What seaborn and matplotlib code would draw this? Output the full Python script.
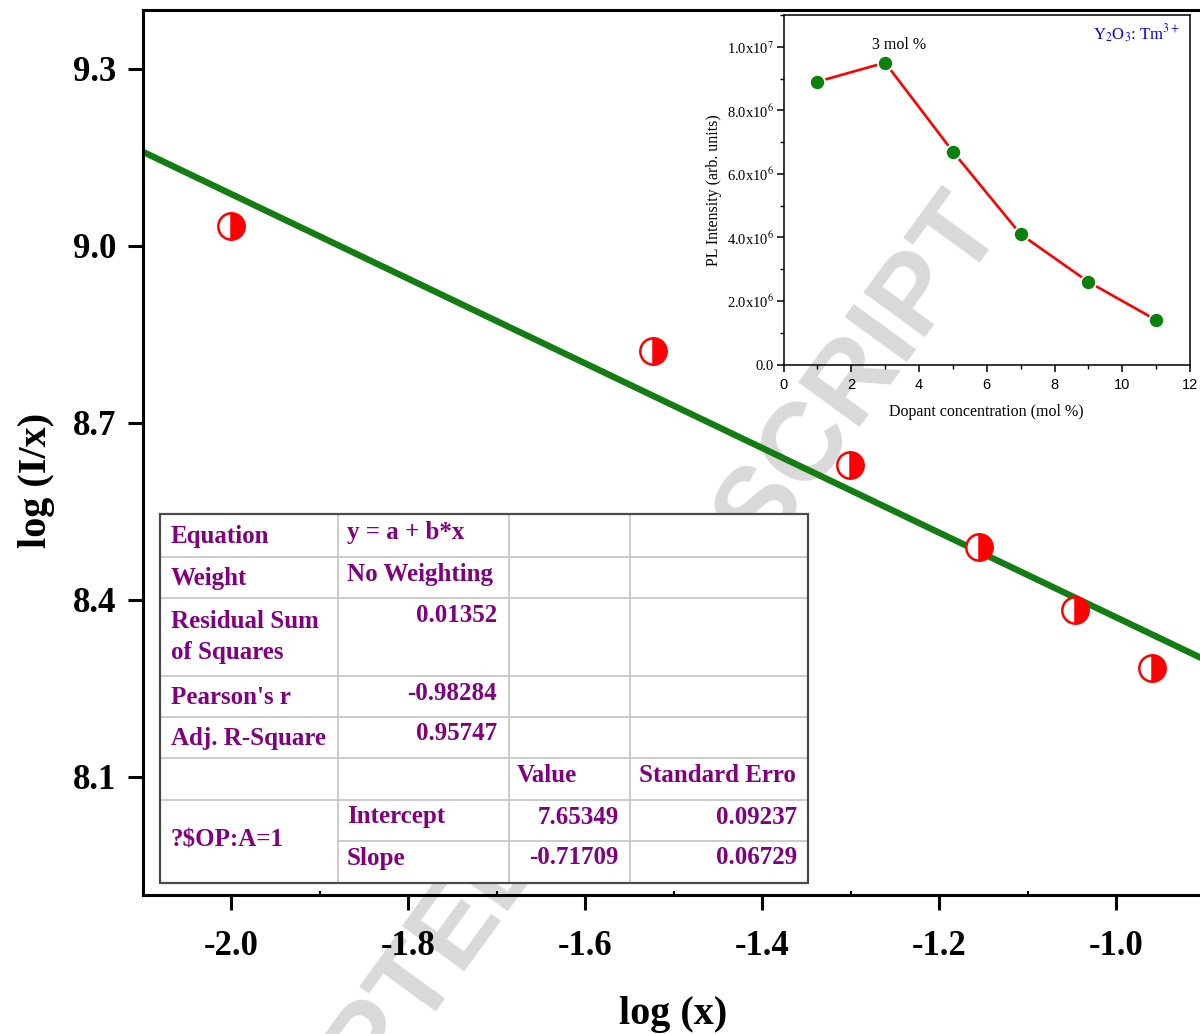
import numpy as np
import matplotlib
matplotlib.use('Agg')
import matplotlib.pyplot as plt
import seaborn as sns
from matplotlib.lines import Line2D
from matplotlib.patches import Rectangle
from matplotlib.ticker import FuncFormatter, MultipleLocator

# data: log-log plot for concentration quenching
log_x = [-2.0, -1.523, -1.301, -1.155, -1.046, -0.959]
log_ix = [9.034, 8.821, 8.629, 8.489, 8.382, 8.284]
intercept = 7.65349
slope = -0.71709

# inset data: PL intensity vs dopant concentration
conc = [1, 3, 5, 7, 9, 11]
pl_int = [8.9e6, 9.5e6, 6.7e6, 4.1e6, 2.6e6, 1.4e6]

# fit report table
row_labels = ['Equation', 'Weight', 'Residual Sum\nof Squares', "Pearson's r", 'Adj. R-Square']
row_values = ['y = a + b*x', 'No Weighting', '0.01352', '-0.98284', '0.95747']
param_names = ['Intercept', 'Slope']
param_values = ['7.65349', '-0.71709']
param_errors = ['0.09237', '0.06729']
header = ['Value', 'Standard Erro']
group_label = '?$OP:A=1'

sns.set_style('ticks')
plt.rcParams['font.family'] = ['Liberation Serif', 'DejaVu Serif']
plt.rcParams['mathtext.fontset'] = 'stix'
plt.rcParams['axes.unicode_minus'] = False
plt.rcParams['xtick.color'] = 'black'
plt.rcParams['ytick.color'] = 'black'
plt.rcParams['axes.edgecolor'] = 'black'
plt.rcParams['text.color'] = 'black'
plt.rcParams['axes.labelcolor'] = 'black'

W, H = 1200, 1034
fig = plt.figure(figsize=(12, 10.34), dpi=100, facecolor='white')


def fx(px):
    return px / W


def fy(py):
    return 1 - py / H


# watermark behind everything
fig.text(fx(575), fy(770), 'ACCEPTED MANUSCRIPT', family='Liberation Sans', fontsize=80,
         fontweight='bold', color='#d9d9d9', rotation=54, rotation_mode='anchor',
         ha='center', va='center', zorder=0.5)

# main axes
ax = fig.add_axes([fx(142.5), fy(895), fx(1204.5) - fx(142.5), fy(9.6) - fy(895)])
ax.set_zorder(1)
ax.patch.set_alpha(0)
ax.set_xlim(-2.1, -0.9)
ax.set_ylim(7.9, 9.4)

fit_x = np.array(ax.get_xlim())
sns.lineplot(x=fit_x, y=intercept + slope * fit_x, ax=ax, color='#137d13', lw=4.6)
ax.plot(log_x, log_ix, linestyle='none', marker='o', ms=19, fillstyle='right',
        markerfacecolor='red', markerfacecoloralt='white', markeredgecolor='red',
        markeredgewidth=1.8, zorder=4)

ax.set_xticks([-2.0, -1.8, -1.6, -1.4, -1.2, -1.0])
ax.set_yticks([8.1, 8.4, 8.7, 9.0, 9.3])
ax.xaxis.set_minor_locator(MultipleLocator(0.1))
ax.tick_params(axis='both', which='major', direction='out', length=11, width=2.2,
               labelsize=25)
ax.tick_params(axis='x', which='major', pad=14)
ax.tick_params(axis='y', which='major', pad=8)
ax.tick_params(axis='x', which='minor', direction='in', length=3, width=1.5)
ax.tick_params(axis='y', which='minor', left=False)
for lab in ax.get_xticklabels() + ax.get_yticklabels():
    lab.set_fontweight('bold')
for s in ax.spines.values():
    s.set_linewidth(2.2)
ax.set_xlabel('log (x)', fontsize=29, fontweight='bold', labelpad=24)
ax.set_ylabel('log (I/x)', fontsize=29, fontweight='bold')
ax.yaxis.set_label_coords(-0.082, 0.468)

# fit table
cols = [160, 338, 509, 630, 808]
rows = [514, 557, 598, 676, 717, 758, 800, 841, 883]
fig.add_artist(Rectangle((fx(cols[0]), fy(rows[-1])), fx(cols[-1]) - fx(cols[0]),
                         fy(rows[0]) - fy(rows[-1]), transform=fig.transFigure,
                         facecolor='white', edgecolor='none', zorder=2))
grid_c = '#c4c4c4'
for r in rows[1:-1]:
    x0 = cols[1] if r == 841 else cols[0]
    fig.add_artist(Line2D([fx(x0), fx(cols[-1])], [fy(r), fy(r)], transform=fig.transFigure,
                          color=grid_c, lw=1.2, zorder=2.1))
for c in cols[1:-1]:
    fig.add_artist(Line2D([fx(c), fx(c)], [fy(rows[0]), fy(rows[-1])], transform=fig.transFigure,
                          color=grid_c, lw=1.2, zorder=2.1))
fig.add_artist(Rectangle((fx(cols[0]), fy(rows[-1])), fx(cols[-1]) - fx(cols[0]),
                         fy(rows[0]) - fy(rows[-1]), transform=fig.transFigure,
                         facecolor='none', edgecolor='#4a4a4a', lw=1.6, zorder=2.2))

tkw = dict(color='#800080', fontsize=18, fontweight='bold', va='center', zorder=2.3)
label_y = [536, 578, 637, 697, 738]
for lab, yy in zip(row_labels, label_y):
    fig.text(fx(171), fy(yy), lab, ha='left', linespacing=1.4, **tkw)
value_y = [533, 575, 616, 693, 734]
for i, (val, yy) in enumerate(zip(row_values, value_y)):
    if i < 2:
        fig.text(fx(347), fy(yy), val, ha='left', **tkw)
    else:
        fig.text(fx(497), fy(yy), val, ha='right', **tkw)
fig.text(fx(517), fy(776), header[0], ha='left', **tkw)
fig.text(fx(639), fy(776), header[1], ha='left', **tkw)
for name, val, err, yy in zip(param_names, param_values, param_errors, [817, 858]):
    fig.text(fx(347), fy(yy), name, ha='left', **tkw)
    fig.text(fx(619), fy(yy), val, ha='right', **tkw)
    fig.text(fx(797), fy(yy), err, ha='right', **tkw)
fig.text(fx(171), fy(840), group_label, ha='left', **tkw)

# inset
axin = fig.add_axes([fx(783.5), fy(364.5), fx(1190) - fx(783.5), fy(15) - fy(364.5)])
axin.set_zorder(3)
axin.patch.set_alpha(0)
sns.lineplot(x=conc, y=pl_int, ax=axin, color='red', lw=1.9, zorder=2)
sns.scatterplot(x=conc, y=pl_int, ax=axin, s=120, color='#0c800c', edgecolor='white',
                linewidth=1.3, zorder=3)
axin.set_xlim(0, 12)
axin.set_ylim(0, 1.1e7)
axin.xaxis.set_major_locator(MultipleLocator(2))
axin.xaxis.set_minor_locator(MultipleLocator(1))
axin.yaxis.set_major_locator(MultipleLocator(2e6))
axin.yaxis.set_minor_locator(MultipleLocator(1e6))


def sci_fmt(v, pos):
    if v <= 0:
        return '0.0' if abs(v) < 1 else ''
    e = int(np.floor(np.log10(v)))
    return f'{v / 10**e:.1f}x10$^{{{e}}}$'


axin.yaxis.set_major_formatter(FuncFormatter(sci_fmt))
axin.tick_params(which='major', direction='out', length=5, width=1.1, labelsize=10.5, pad=2)
axin.tick_params(which='minor', direction='out', length=3, width=1.0)
axin.tick_params(axis='x', which='major', pad=5)
for lab in axin.get_xticklabels():
    lab.set_family('Liberation Sans')
for s in axin.spines.values():
    s.set_linewidth(1.1)
    s.set_color('black')
axin.set_xlabel('Dopant concentration (mol %)', fontsize=11.5, labelpad=8)
axin.set_ylabel('PL Intensity (arb. units)', fontsize=11.5, labelpad=3)
axin.text(3.4, 1.006e7, '3 mol %', fontsize=11.5, ha='center', va='center')
axin.text(0.975, 0.945, 'Y$_2$O$_3$: Tm$^{3+}$', transform=axin.transAxes, color='blue',
          fontsize=12, ha='right', va='center')

fig.savefig('out.png', dpi=100)
